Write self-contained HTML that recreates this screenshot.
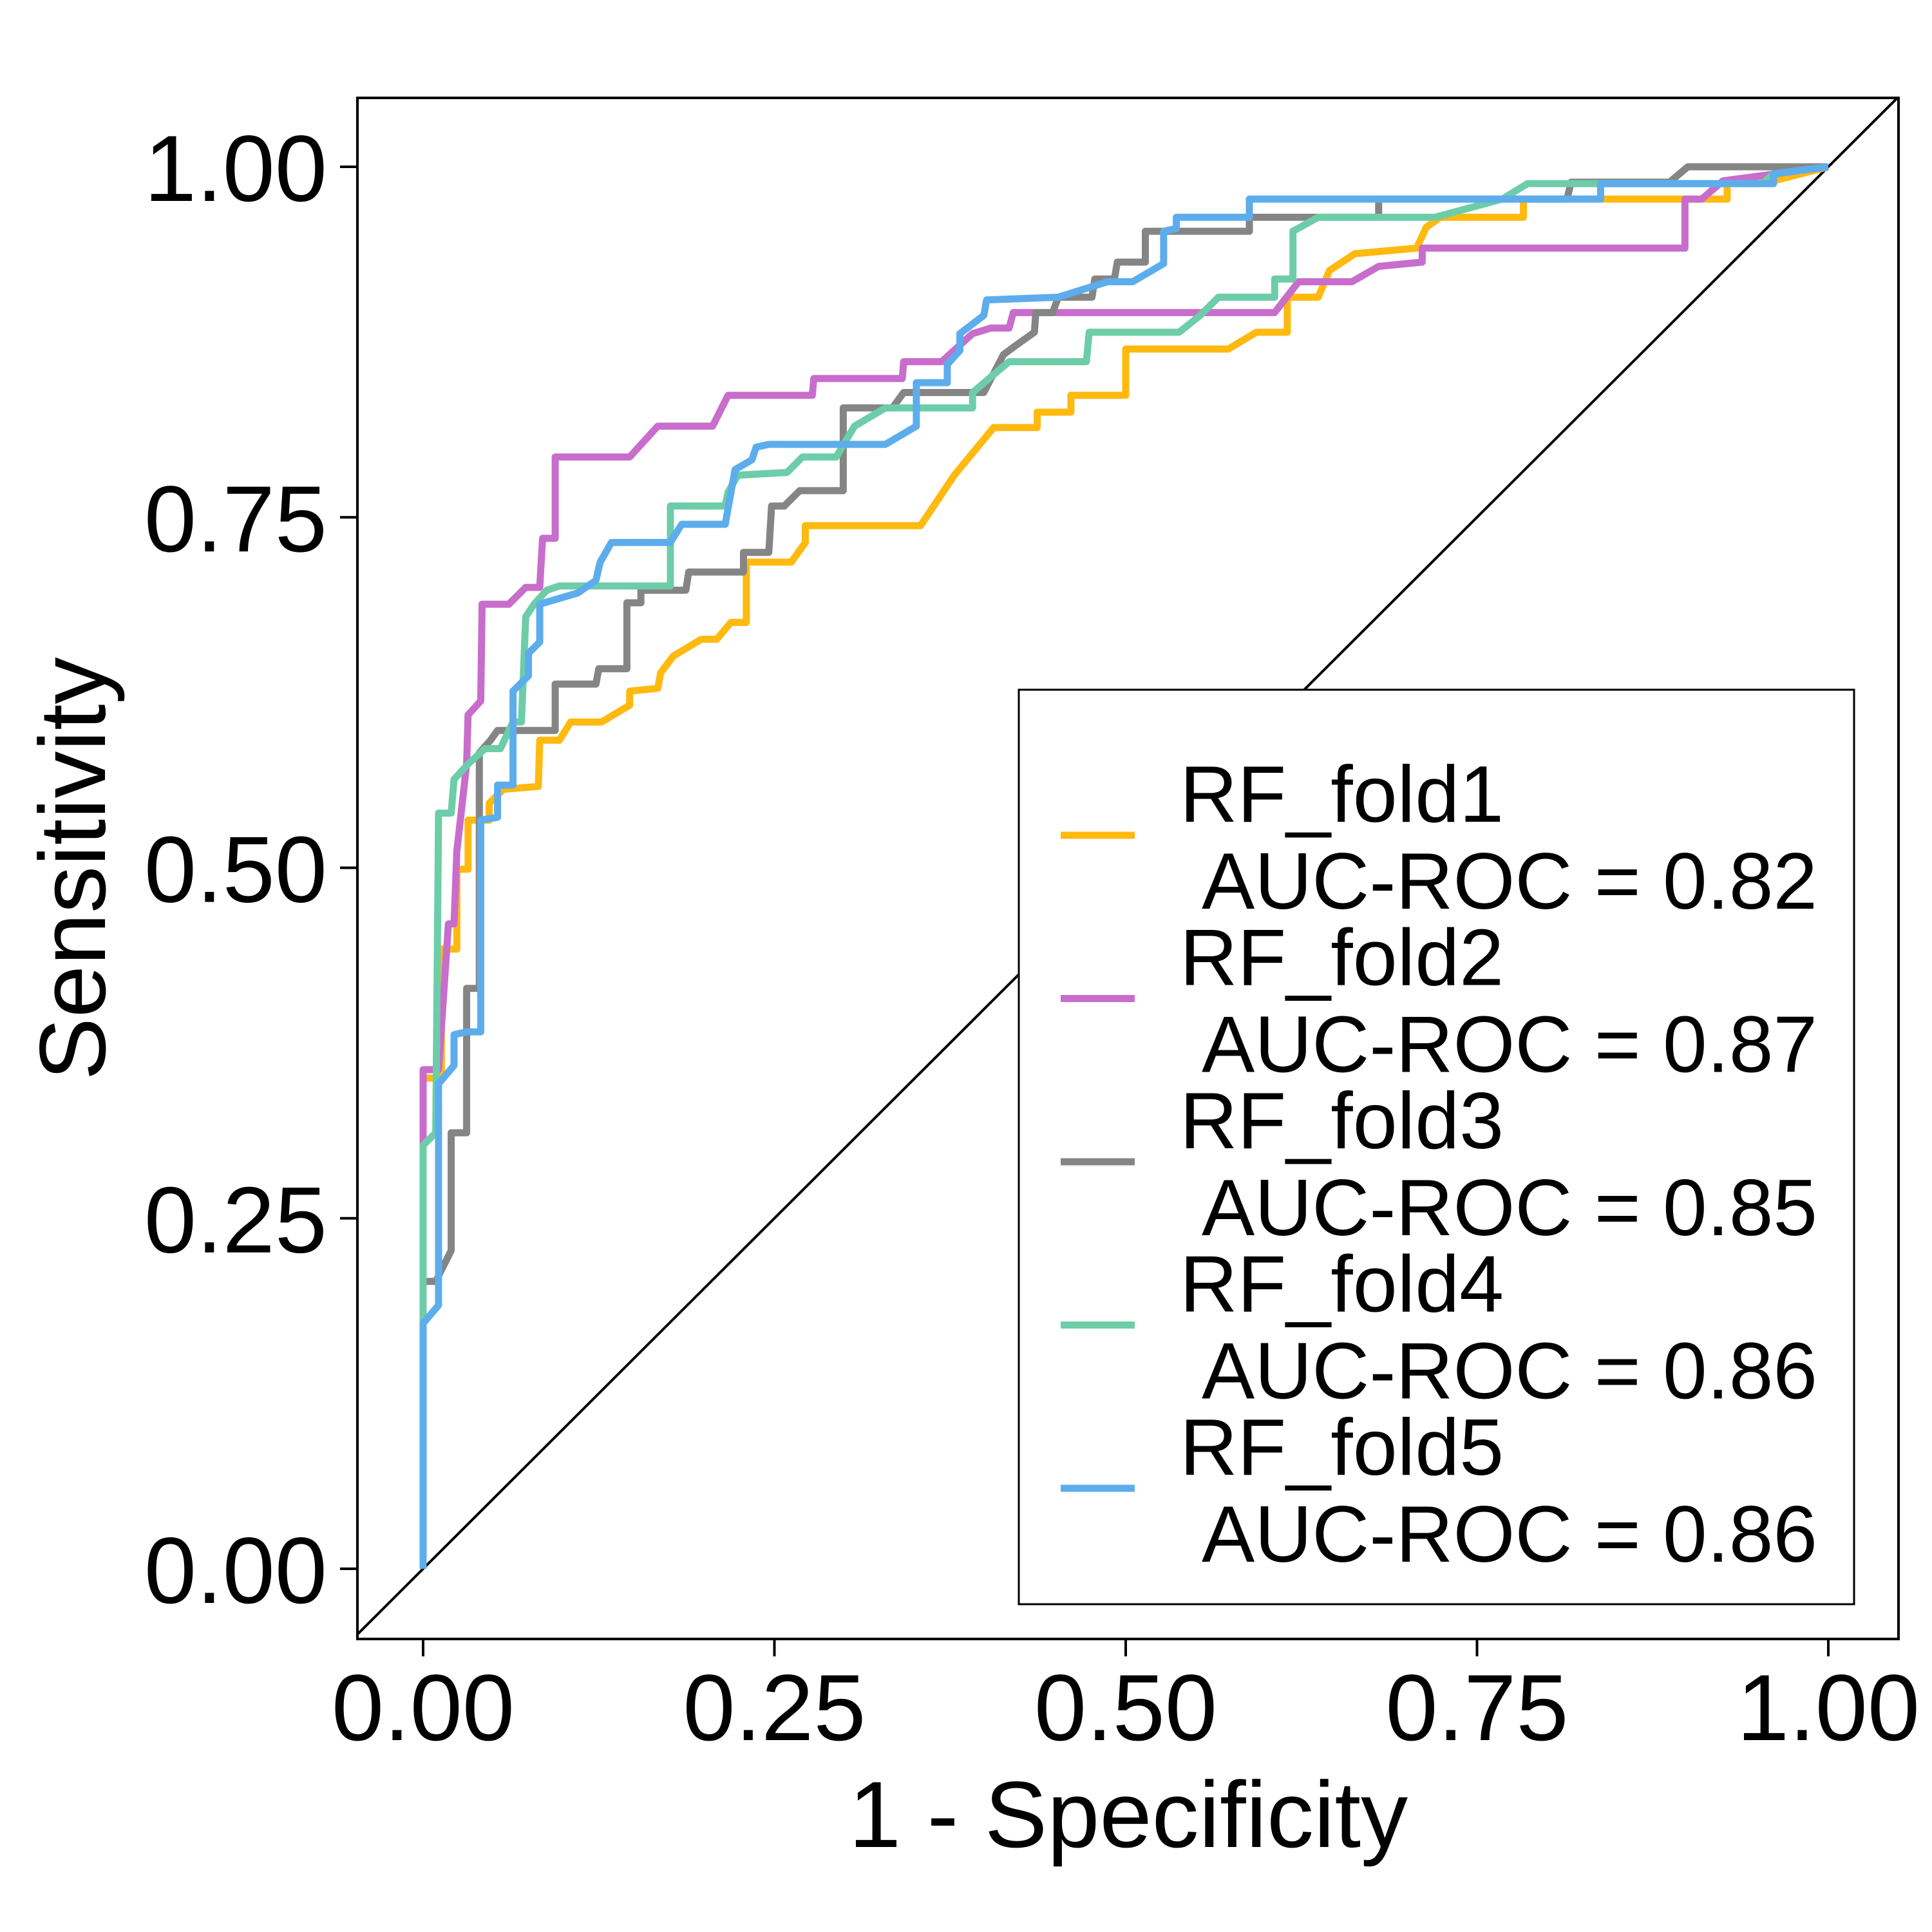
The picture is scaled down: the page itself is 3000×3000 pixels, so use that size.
<!DOCTYPE html>
<html><head><meta charset="utf-8"><style>
html,body{margin:0;padding:0;background:#fff;}
svg{display:block;font-family:"Liberation Sans",Arial,sans-serif;}
</style></head><body>
<svg id="chart" width="3000" height="3000" viewBox="0 0 3000 3000" xmlns="http://www.w3.org/2000/svg">
<rect x="0" y="0" width="3000" height="3000" fill="#fff"/>
<defs><clipPath id="pc"><rect x="555" y="152" width="2393" height="2393"/></clipPath></defs>
<g id="plot" clip-path="url(#pc)"></g>
<rect x="555" y="152" width="2393" height="2393" fill="none" stroke="#000" stroke-width="4"/>
<g id="axes"></g>
<text x="1752" y="2868" font-size="146" text-anchor="middle">1 - Specificity</text>
<text transform="translate(163,1349) rotate(-90)" font-size="146" text-anchor="middle">Sensitivity</text>
<g id="legend"></g>
</svg>
<script>
const seriesNames = ["RF_fold1","RF_fold2","RF_fold3","RF_fold4","RF_fold5"];
const aucValues = ["0.82","0.87","0.85","0.86","0.86"];
const seriesColors = ["#FFB90F","#C86DCB","#858585","#6DCDA9","#5DADEC"];
const tickValues = [0, 0.25, 0.5, 0.75, 1];
const tickLabels = ["0.00","0.25","0.50","0.75","1.00"];
const fold1 = [[0,0],[0,.35],[.013,.35],[.013,.442],[.024,.442],[.024,.499],[.032,.499],[.032,.534],[.047,.534],[.047,.546],[.057,.556],[.082,.558],[.083,.591],[.097,.591],[.105,.604],[.127,.604],[.147,.616],[.147,.626],[.167,.628],[.169,.639],[.178,.651],[.198,.663],[.209,.663],[.219,.675],[.230,.675],[.230,.718],[.262,.718],[.272,.732],[.272,.744],[.354,.744],[.378,.780],[.406,.814],[.437,.814],[.437,.825],[.461,.825],[.461,.837],[.5,.837],[.5,.870],[.573,.870],[.593,.882],[.615,.882],[.615,.907],[.637,.907],[.645,.926],[.663,.938],[.707,.942],[.714,.957],[.724,.964],[.783,.964],[.783,.977],[.928,.977],[.928,.99],[.961,.99],[1,1]];
const fold2 = [[0,0],[0,.302],[0,.356],[.011,.356],[.018,.460],[.022,.460],[.024,.512],[.031,.574],[.032,.609],[.041,.619],[.042,.688],[.061,.688],[.073,.700],[.083,.700],[.085,.735],[.094,.735],[.094,.793],[.147,.793],[.167,.815],[.206,.815],[.217,.837],[.277,.837],[.278,.849],[.341,.849],[.342,.861],[.369,.861],[.391,.881],[.404,.885],[.417,.885],[.420,.896],[.606,.896],[.623,.918],[.661,.918],[.680,.929],[.711,.932],[.711,.942],[.898,.942],[.898,.977],[.910,.977],[.925,.99],[1,1]];
const fold3 = [[0,0],[0,.205],[.009,.205],[.020,.227],[.020,.311],[.031,.311],[.031,.414],[.040,.414],[.040,.582],[.048,.591],[.053,.598],[.094,.598],[.094,.631],[.123,.631],[.125,.642],[.145,.642],[.145,.689],[.155,.689],[.155,.698],[.187,.698],[.189,.711],[.228,.711],[.228,.725],[.246,.725],[.248,.758],[.257,.758],[.268,.769],[.299,.769],[.299,.828],[.334,.828],[.342,.839],[.399,.839],[.413,.866],[.421,.872],[.435,.882],[.436,.896],[.448,.896],[.452,.907],[.476,.907],[.478,.920],[.492,.920],[.494,.932],[.514,.932],[.514,.954],[.588,.954],[.588,.964],[.680,.964],[.680,.977],[.814,.977],[.817,.989],[.887,.989],[.900,1],[.953,1],[1,1]];
const fold4 = [[0,0],[0,.302],[.009,.311],[.011,.539],[.020,.539],[.022,.563],[.032,.574],[.044,.585],[.055,.585],[.064,.604],[.070,.604],[.073,.679],[.079,.688],[.088,.698],[.097,.701],[.176,.701],[.176,.758],[.215,.758],[.217,.768],[.224,.780],[.259,.782],[.270,.793],[.294,.793],[.307,.815],[.329,.828],[.391,.828],[.391,.839],[.404,.850],[.417,.861],[.472,.861],[.474,.882],[.538,.882],[.553,.894],[.566,.907],[.606,.907],[.606,.920],[.619,.920],[.619,.954],[.637,.964],[.720,.964],[.768,.977],[.786,.988],[.953,.988],[.961,.995],[1,1]];
const fold5 = [[0,0],[0,.175],[.011,.188],[.011,.346],[.022,.359],[.022,.381],[.031,.383],[.041,.383],[.041,.534],[.053,.536],[.053,.559],[.064,.559],[.064,.626],[.075,.637],[.075,.653],[.083,.661],[.083,.688],[.110,.696],[.123,.705],[.126,.718],[.134,.732],[.176,.732],[.184,.745],[.215,.745],[.222,.784],[.234,.791],[.237,.800],[.246,.802],[.329,.802],[.351,.815],[.351,.846],[.373,.846],[.373,.859],[.382,.869],[.382,.881],[.399,.894],[.401,.905],[.452,.907],[.487,.918],[.505,.918],[.527,.931],[.527,.954],[.536,.956],[.536,.964],[.588,.964],[.588,.977],[.838,.977],[.838,.988],[.961,.988],[.961,.995],[1,1]];
const allSeries = [fold1, fold2, fold3, fold4, fold5];

const NS = "http://www.w3.org/2000/svg";
function sx(v){ return 657 + v * 2182; }
function sy(v){ return 2436 - v * 2177; }
function mk(tag, attrs, parent){ const e = document.createElementNS(NS, tag); for (const k in attrs) e.setAttribute(k, attrs[k]); parent.appendChild(e); return e; }

const plot = document.getElementById('plot');
const diag = mk('line', {x1: sx(-0.05), y1: sy(-0.05), x2: sx(1.05), y2: sy(1.05), stroke: '#000', 'stroke-width': 4}, plot);


allSeries.forEach((s, i) => {
  const p = mk('polyline', {points: s.map(d => sx(d[0]).toFixed(1) + ',' + sy(d[1]).toFixed(1)).join(' '), fill: 'none', stroke: seriesColors[i], 'stroke-width': 11, 'stroke-linejoin': 'round'}, plot);
  
  
});

const axes = document.getElementById('axes');
tickValues.forEach((v, i) => {
  const tx = mk('line', {x1: sx(v), x2: sx(v), y1: 2547, y2: 2572, stroke: '#000', 'stroke-width': 4}, axes);
  
  
  const lx = mk('text', {x: sx(v), y: 2702, 'font-size': 146, 'text-anchor': 'middle'}, axes);
  lx.textContent = tickLabels[i];
  
  
  const ty = mk('line', {x1: 528, x2: 553, y1: sy(v), y2: sy(v), stroke: '#000', 'stroke-width': 4}, axes);
  
  
  const ly = mk('text', {x: 508, y: sy(v) + 53, 'font-size': 146, 'text-anchor': 'end'}, axes);
  ly.textContent = tickLabels[i];
  
  
});

const leg = document.getElementById('legend');
const box = mk('rect', {x: 1582, y: 1071, width: 1297, height: 1420, fill: '#fff', stroke: '#000', 'stroke-width': 3}, leg);


seriesNames.forEach((n, i) => {
  const y0 = 1297 + i * 253.5;
  const g = mk('g', {}, leg);
  
  
  const k = mk('line', {x1: 1647, x2: 1762, y1: y0, y2: y0, stroke: seriesColors[i], 'stroke-width': 11}, g);
  
  
  const t1 = mk('text', {x: 1832, y: y0 - 21, 'font-size': 124}, g);
  t1.textContent = n;
  
  
  const t2 = mk('text', {x: 1866, y: y0 + 114, 'font-size': 124, textLength: 956, lengthAdjust: 'spacingAndGlyphs'}, g);
  t2.textContent = 'AUC-ROC = ' + aucValues[i];
  
  
});
</script>
</body></html>
